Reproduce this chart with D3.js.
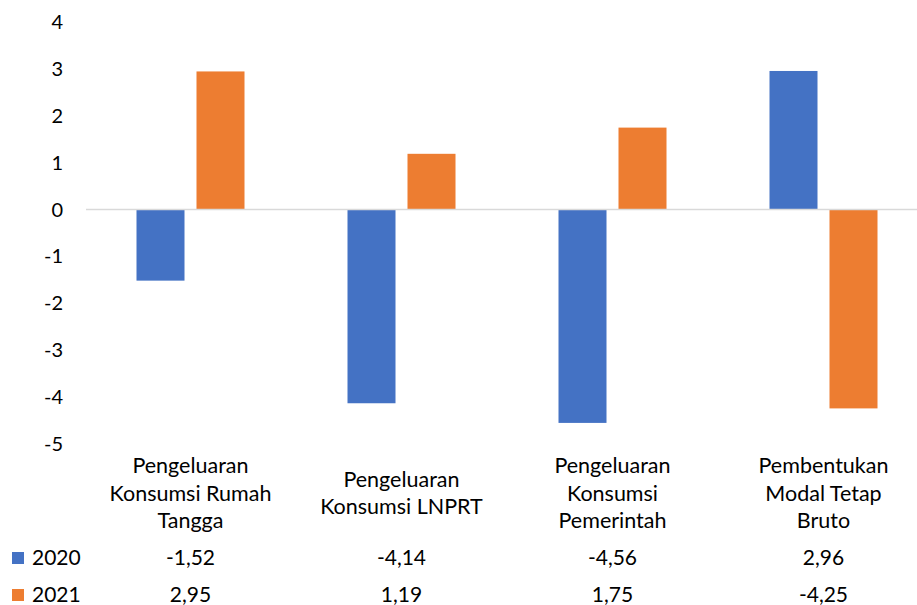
<!DOCTYPE html>
<html lang="id">
<head>
<meta charset="utf-8">
<title>Pertumbuhan Komponen Pengeluaran</title>
<script src="https://cdn.jsdelivr.net/npm/d3@7/dist/d3.min.js"></script>
<style>
  body { margin: 0; background: #fff; }
  text { font-family: Lato, "Open Sans", sans-serif; fill: #000; }
</style>
</head>
<body>
<script>
var width = 917;
var height = 605;

var categories = [
    ["Pengeluaran", "Konsumsi Rumah", "Tangga"],
    ["Pengeluaran", "Konsumsi LNPRT"],
    ["Pengeluaran", "Konsumsi", "Pemerintah"],
    ["Pembentukan", "Modal Tetap", "Bruto"]
];
var seriesNames = ["2020", "2021"];
var values2020 = [-1.52, -4.14, -4.56, 2.96];
var values2021 = [2.95, 1.19, 1.75, -4.25];
var yTicks = [4, 3, 2, 1, 0, -1, -2, -3, -4, -5];

var colors = ["#4472C4", "#ED7D31"];
var series = [values2020, values2021];

var svg = d3.select("body").append("svg")
    .attr("width", width)
    .attr("height", height);

var x = d3.scaleBand()
    .domain(d3.range(categories.length))
    .range([85, 929]);

var y = d3.scaleLinear()
    .domain([-5, 4])
    .range([443.5, 22.3]);

var barW = 48, barGap = 12;
var groupW = barW * 2 + barGap;

// y axis labels (no axis line)
svg.append("g").selectAll("text")
    .data(yTicks)
    .enter()
    .append("text")
    .attr("x", 63)
    .attr("y", function(d) { return y(d); })
    .attr("dy", "0.35em")
    .attr("text-anchor", "end")
    .attr("font-size", 20)
    .text(function(d) { return d; });

// bars
series.forEach(function(vals, s) {
    svg.append("g").selectAll("rect")
        .data(vals)
        .enter()
        .append("rect")
        .attr("x", function(d, i) {
            return x(i) + (x.bandwidth() - groupW) / 2 + s * (barW + barGap);
        })
        .attr("y", function(d) { return y(Math.max(0, d)); })
        .attr("width", barW)
        .attr("height", function(d) { return Math.abs(y(d) - y(0)); })
        .attr("fill", colors[s]);
});

// zero line
svg.append("line")
    .attr("x1", 86)
    .attr("x2", width)
    .attr("y1", y(0))
    .attr("y2", y(0))
    .attr("stroke", "#d9d9d9")
    .attr("stroke-width", 1.5);

// category labels
var lineH = 27.5;
var labelMid = 493;
categories.forEach(function(lines, i) {
    var cx = x(i) + x.bandwidth() / 2;
    var t = svg.append("text")
        .attr("text-anchor", "middle")
        .attr("font-size", 21.5);
    lines.forEach(function(l, k) {
        t.append("tspan")
            .attr("x", cx)
            .attr("y", labelMid + (k - (lines.length - 1) / 2) * lineH)
            .attr("dy", "0.35em")
            .text(l);
    });
});

// data table rows
var fmt = function(v) { return d3.format(".2f")(v).replace("\u2212", "-").replace(".", ","); };
var rowY = [558, 595];
series.forEach(function(vals, s) {
    svg.append("rect")
        .attr("x", 12)
        .attr("y", rowY[s] - 6)
        .attr("width", 12)
        .attr("height", 12)
        .attr("fill", colors[s]);
    svg.append("text")
        .attr("x", 32)
        .attr("y", rowY[s])
        .attr("dy", "0.35em")
        .attr("font-size", 21)
        .text(seriesNames[s]);
    svg.append("g").selectAll("text")
        .data(vals)
        .enter()
        .append("text")
        .attr("x", function(d, i) { return x(i) + x.bandwidth() / 2; })
        .attr("y", rowY[s])
        .attr("dy", "0.35em")
        .attr("text-anchor", "middle")
        .attr("font-size", 21)
        .text(function(d) { return fmt(d); });
});
</script>
</body>
</html>
